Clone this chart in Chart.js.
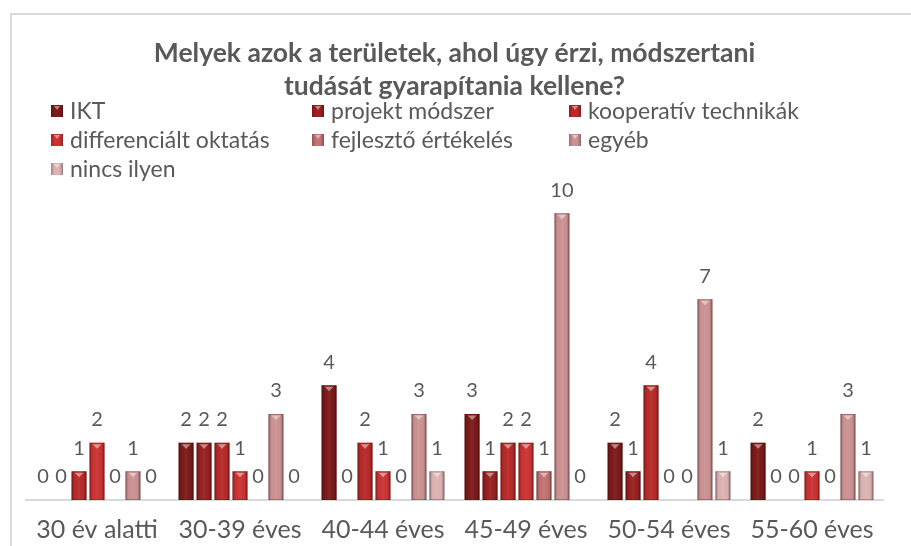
<!DOCTYPE html>
<html><head><meta charset="utf-8">
<script src="https://cdn.jsdelivr.net/npm/chart.js@4"></script>
<style>html,body{margin:0;padding:0;background:#fff;}#wrap{position:relative;width:911px;height:546px;}canvas{display:block;}</style>
</head><body><div id="wrap"><canvas id="c" width="911" height="546"></canvas></div>
<script>
const categories = ['30 év alatti', '30-39 éves', '40-44 éves', '45-49 éves', '50-54 éves', '55-60 éves'];
const seriesNames = ['IKT', 'projekt módszer', 'kooperatív technikák', 'differenciált oktatás', 'fejlesztő értékelés', 'egyéb', 'nincs ilyen'];
const valuesIKT = [0, 2, 4, 3, 2, 2];
const valuesProjekt = [0, 2, 0, 1, 1, 0];
const valuesKooperativ = [1, 2, 2, 2, 4, 0];
const valuesDifferencialt = [2, 1, 1, 2, 0, 1];
const valuesFejleszto = [0, 0, 0, 1, 0, 0];
const valuesEgyeb = [1, 3, 3, 10, 7, 3];
const valuesNincs = [0, 0, 1, 0, 1, 1];
const seriesValues = [valuesIKT, valuesProjekt, valuesKooperativ, valuesDifferencialt, valuesFejleszto, valuesEgyeb, valuesNincs];
const seriesColors = ['#7d1a1a', '#982121', '#b82a2a', '#cc3333', '#c27272', '#cc9292', '#dcb3b3'];
const FONT = 'Lato';
const TEXT = '#595959';

const bevelPlugin = {
  id: 'bevel',
  afterDatasetsDraw(chart) {
    const ctx = chart.ctx;
    chart.data.datasets.forEach((ds, di) => {
      const meta = chart.getDatasetMeta(di);
      meta.data.forEach((el, i) => {
        const v = ds.data[i];
        if (!v) return;
        const w = el.width, x0 = el.x - w / 2, top = el.y, bot = el.base;
        ctx.save();
        const g = ctx.createLinearGradient(x0, 0, x0 + w, 0);
        g.addColorStop(0, 'rgba(0,0,0,0.28)');
        g.addColorStop(0.22, 'rgba(0,0,0,0)');
        g.addColorStop(0.5, 'rgba(255,255,255,0.06)');
        g.addColorStop(0.78, 'rgba(0,0,0,0)');
        g.addColorStop(1, 'rgba(0,0,0,0.32)');
        ctx.fillStyle = g;
        ctx.fillRect(x0, top, w, bot - top);
        ctx.strokeStyle = 'rgba(60,0,0,0.25)';
        ctx.lineWidth = 1;
        ctx.strokeRect(x0 + 0.5, top + 0.5, w - 1, bot - top - 1);
        ctx.fillStyle = 'rgba(255,255,255,0.45)';
        ctx.beginPath();
        ctx.moveTo(el.x - w * 0.3, top + 1.5);
        ctx.lineTo(el.x + w * 0.3, top + 1.5);
        ctx.lineTo(el.x, top + 6);
        ctx.closePath();
        ctx.fill();
        ctx.restore();
      });
    });
  }
};

const labelPlugin = {
  id: 'vlabels',
  afterDatasetsDraw(chart) {
    const ctx = chart.ctx;
    ctx.save();
    ctx.font = '20px ' + FONT;
    ctx.fillStyle = TEXT;
    ctx.textAlign = 'center';
    ctx.textBaseline = 'middle';
    chart.data.datasets.forEach((ds, di) => {
      const meta = chart.getDatasetMeta(di);
      meta.data.forEach((el, i) => {
        ctx.fillText(String(ds.data[i]), el.x, el.y - 23);
      });
    });
    ctx.restore();
  }
};

const legendPlugin = {
  id: 'gridLegend',
  afterDraw(chart) {
    const ctx = chart.ctx;
    const colsX = [51, 312, 569];
    const rowsY = [111, 140, 169];
    ctx.save();
    ctx.font = '23px ' + FONT;
    ctx.textBaseline = 'middle';
    ctx.textAlign = 'left';
    chart.data.datasets.forEach((ds, i) => {
      const x = colsX[i % 3], y = rowsY[Math.floor(i / 3)];
      const s = 12;
      ctx.fillStyle = ds.backgroundColor;
      ctx.fillRect(x, y - s / 2, s, s);
      const g = ctx.createLinearGradient(x, 0, x + s, 0);
      g.addColorStop(0, 'rgba(0,0,0,0.25)');
      g.addColorStop(0.3, 'rgba(0,0,0,0)');
      g.addColorStop(0.7, 'rgba(0,0,0,0)');
      g.addColorStop(1, 'rgba(0,0,0,0.3)');
      ctx.fillStyle = g;
      ctx.fillRect(x, y - s / 2, s, s);
      ctx.fillStyle = 'rgba(255,255,255,0.45)';
      ctx.beginPath();
      ctx.moveTo(x + 3, y - s / 2 + 1);
      ctx.lineTo(x + s - 3, y - s / 2 + 1);
      ctx.lineTo(x + s / 2, y - s / 2 + 5);
      ctx.closePath();
      ctx.fill();
      ctx.fillStyle = TEXT;
      ctx.fillText(ds.label, x + 19, y + 1);
    });
    ctx.restore();
  }
};

const framePlugin = {
  id: 'frame',
  beforeDraw(chart) {
    const ctx = chart.ctx;
    ctx.save();
    ctx.fillStyle = '#ffffff';
    ctx.fillRect(0, 0, chart.width, chart.height);
    ctx.strokeStyle = '#d9d9d9';
    ctx.lineWidth = 2;
    ctx.beginPath();
    ctx.moveTo(11, chart.height);
    ctx.lineTo(11, 14);
    ctx.lineTo(chart.width, 14);
    ctx.stroke();
    ctx.restore();
  }
};

new Chart(document.getElementById('c'), {
  type: 'bar',
  data: {
    labels: categories,
    datasets: seriesNames.map((name, i) => ({
      label: name,
      data: seriesValues[i],
      backgroundColor: seriesColors[i],
      borderWidth: 0,
      categoryPercentage: 0.88,
      barPercentage: 0.83
    }))
  },
  options: {
    responsive: false,
    animation: false,
    layout: { padding: { left: 25.5, right: 27.5, top: 0, bottom: 0 } },
    plugins: {
      legend: { display: false },
      tooltip: { enabled: false },
      title: {
        display: true,
        text: ['Melyek azok a területek, ahol úgy érzi, módszertani', 'tudását gyarapítania kellene?'],
        font: { family: FONT, size: 26.5, weight: 'bold', lineHeight: 1.28 },
        color: TEXT,
        padding: { top: 36, bottom: 52 }
      }
    },
    scales: {
      x: {
        grid: { display: false },
        border: { display: true, color: '#d9d9d9', width: 2 },
        ticks: { font: { family: FONT, size: 25 }, color: TEXT, padding: 7, maxRotation: 0, autoSkip: false },
        afterFit: (s) => { s.height = 46; }
      },
      y: { display: false, min: 0, max: 12 }
    }
  },
  plugins: [framePlugin, bevelPlugin, labelPlugin, legendPlugin]
});
</script></body></html>
